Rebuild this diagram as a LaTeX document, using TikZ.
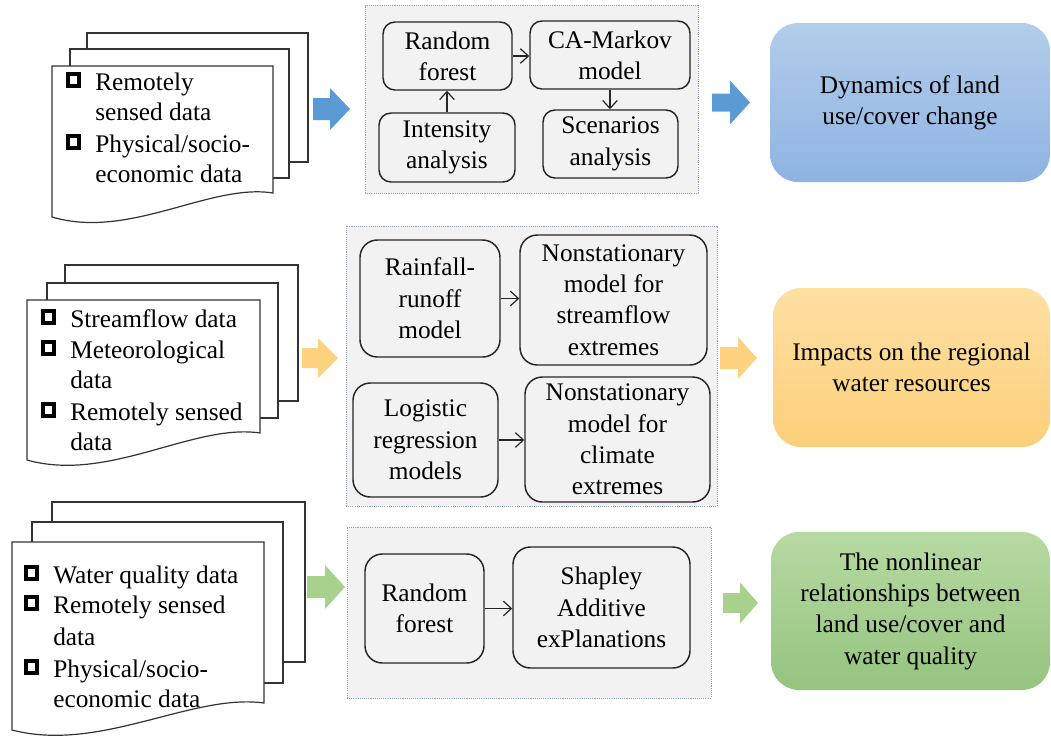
\documentclass[tikz,border=0pt]{standalone}
\usepackage{fontspec}
\setmainfont{Liberation Serif}
\usetikzlibrary{arrows.meta}
\definecolor{barrowc}{HTML}{5B9BD5}
\definecolor{oarrowc}{HTML}{FFD27F}
\definecolor{garrowc}{HTML}{A9D18E}
\definecolor{bluetop}{HTML}{B3CDEA}
\definecolor{bluebot}{HTML}{8EB3E2}
\definecolor{orgtop}{HTML}{FEDFA3}
\definecolor{orgbot}{HTML}{FCD07A}
\definecolor{grntop}{HTML}{B7D9A2}
\definecolor{grnbot}{HTML}{95C47F}
\definecolor{panelfill}{HTML}{F2F2F2}
\definecolor{paneledge}{HTML}{8EA0BC}
\definecolor{boxline}{HTML}{262626}
\definecolor{pageline}{HTML}{333333}
\newcommand\pbox[7]{\node[#2, minimum width={(#5-#3)*0.75pt}, minimum height={(#6-#4)*0.75pt}] (#1) at ({(#3+#5)/2},{(#4+#6)/2}) {#7};}
\newcommand\barrow[7]{\fill[#1] (#2,{#5-#7}) -- (#3,{#5-#7}) -- (#3,{#5-#6}) -- (#4,#5) -- (#3,{#5+#6}) -- (#3,{#5+#7}) -- (#2,{#5+#7}) -- cycle;}
\newcommand\docfront[5]{\draw[docpage] (#1,#2) -- (#3,#2) -- (#3,#4) .. controls ({#3-0.285*(#3-#1)},{#4-10}) and ({#1+0.35*(#3-#1)},{#5+23}) .. (#1,#5) -- cycle;}
% checkbox item: name, box-left x, baseline y, text
\newcommand\chkitem[4]{\node[chk] (#1c) at ({#2+7.5},{#3-10}) {};\node[item] (#1) at ({#2+29},#3) {#4};}
\begin{document}
\begin{tikzpicture}[x=0.75pt,y=-0.75pt,
  every node/.style={font=\fontsize{19}{23.5}\selectfont},
  panel/.style={fill=panelfill, draw=paneledge, line width=0.7pt, dash pattern=on 0.8pt off 0.8pt, inner sep=0},
  procbox/.style={draw=boxline, fill=panelfill, line width=1.1pt, rounded corners=9pt, align=center, inner sep=0},
  bigproc/.style={procbox, rounded corners=13pt},
  result/.style={rounded corners=21pt, align=center, inner sep=0},
  docpage/.style={draw=pageline, fill=white, line width=0.9pt},
  item/.style={anchor=base west, inner sep=0},
  chk/.style={draw=black, line width=2.8pt, minimum size=8.6pt, inner sep=0},
  flow/.style={-{Straight Barb[length=6pt,width=11pt]}, line width=0.9pt, draw=boxline}]
\useasboundingbox (0,0) rectangle (1051,740);

% ---------- document stacks ----------
\draw[docpage] (87,33) rectangle (308,162);
\draw[docpage] (70,49) rectangle (289,178);
\docfront{52}{66}{273}{193}{217}
\chkitem{d1a}{66}{90}{Remotely}
\node[item] (d1b) at (95,120) {sensed data};
\chkitem{d1c}{66}{152}{Physical/socio-}
\node[item] (d1d) at (95,182) {economic data};

\draw[docpage] (65,265) rectangle (298,401);
\draw[docpage] (47,283) rectangle (278,418);
\docfront{27}{300}{260}{433}{460}
\chkitem{d2a}{41}{327}{Streamflow data}
\chkitem{d2b}{41}{358}{Meteorological}
\node[item] (d2c) at (70,388) {data};
\chkitem{d2d}{41}{420}{Remotely sensed}
\node[item] (d2e) at (70,450) {data};

\draw[docpage] (52,502) rectangle (305,662);
\draw[docpage] (32,522) rectangle (283,683);
\docfront{12}{542}{264}{703}{730}
\chkitem{d3a}{24}{583}{Water quality data}
\chkitem{d3b}{24}{613}{Remotely sensed}
\node[item] (d3c) at (53,645) {data};
\chkitem{d3d}{24}{677}{Physical/socio-}
\node[item] (d3e) at (53,707) {economic data};

% ---------- block arrows ----------
\barrow{barrowc}{313}{330}{350}{109}{21}{11}
\barrow{barrowc}{712}{730}{750}{102.5}{22}{9}
\barrow{oarrowc}{302}{318}{338}{358}{20}{10}
\barrow{oarrowc}{720}{738}{757}{358}{21}{11}
\barrow{garrowc}{307}{325}{345}{587}{22}{11}
\barrow{garrowc}{723}{740}{758}{603}{20.5}{10}

% ---------- panels ----------
\pbox{p1}{panel}{365}{5}{698}{193}{}
\pbox{p2}{panel}{346}{226}{717}{506}{}
\pbox{p3}{panel}{347}{527}{711}{698}{}

% top panel
\pbox{rf1}{procbox}{383}{22}{512}{90}{Random\\forest}
\pbox{ca}{procbox}{530}{21}{690}{89}{CA-Markov\\model}
\pbox{ia}{procbox}{379}{113}{515}{182}{Intensity\\analysis}
\pbox{sa}{procbox}{543}{110}{678}{178}{Scenarios\\analysis}
\draw[flow] (rf1.east) -- (rf1.east -| ca.west);
\draw[flow] (ia.north) -- (ia.north |- rf1.south);
\draw[flow] (ca.south) -- (ca.south |- sa.north);

% middle panel
\pbox{rr}{bigproc}{360}{240}{500}{357}{Rainfall-\\runoff\\model}
\pbox{ns1}{bigproc}{520}{235}{707}{365}{Nonstationary\\model for\\streamflow\\extremes}
\pbox{lr}{bigproc}{353}{383}{498}{497}{Logistic\\regression\\models}
\pbox{ns2}{bigproc}{525}{377}{710}{502}{Nonstationary\\model for\\climate\\extremes}
\draw[flow] (rr.east) -- (rr.east -| ns1.west);
\draw[flow] (lr.east) -- (lr.east -| ns2.west);

% bottom panel
\pbox{rf3}{bigproc}{365}{554}{484}{663}{Random\\forest}
\pbox{sh}{bigproc}{513}{547}{690}{668}{Shapley\\Additive\\exPlanations}
\draw[flow] (rf3.east) -- (rf3.east -| sh.west);

% ---------- results ----------
\pbox{r1}{result, top color=bluetop, bottom color=bluebot}{770}{23}{1050}{182}{Dynamics of land\\use/cover change}
\pbox{r2}{result, top color=orgtop, bottom color=orgbot}{773}{288}{1050}{447}{Impacts on the regional\\water resources}
\pbox{r3}{result, top color=grntop, bottom color=grnbot}{771}{532}{1050}{690}{The nonlinear\\relationships between\\land use/cover and\\water quality}
\end{tikzpicture}
\end{document}
